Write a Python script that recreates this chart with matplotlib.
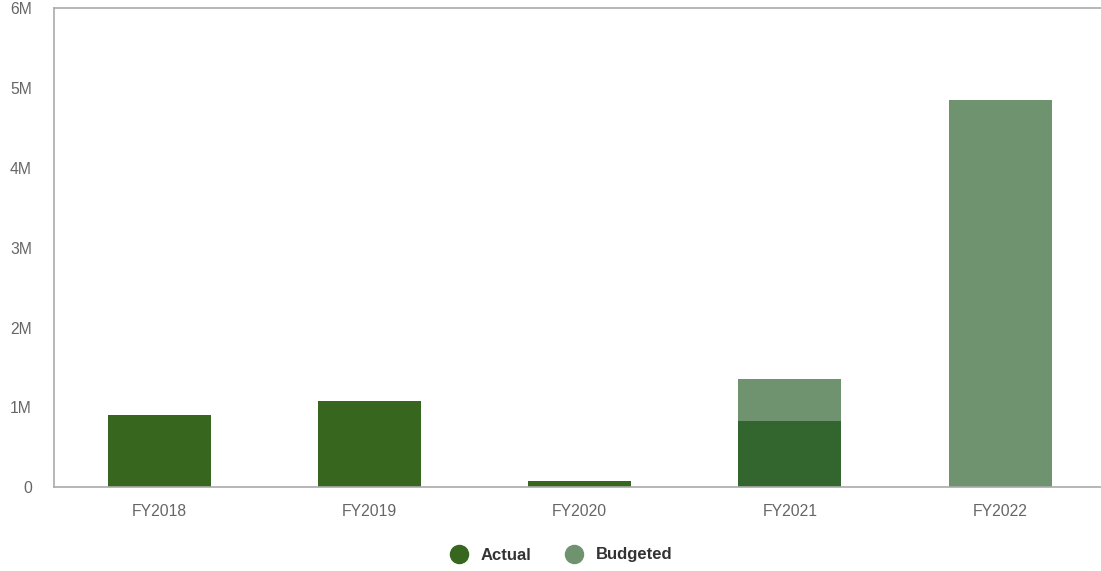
import matplotlib.pyplot as plt
from matplotlib.lines import Line2D

plt.rcParams['font.family'] = ['Liberation Sans', 'DejaVu Sans']

years = ['FY2018', 'FY2019', 'FY2020', 'FY2021', 'FY2022']
actual = [0.90, 1.08, 0.08, 0.83, 0.0]         # millions
budgeted = [0.0, 0.0, 0.0, 0.525, 4.85]       # on top of actual
actual_colors = ['#37661f', '#37661f', '#37661f', '#33652f', '#37661f']
budget_color = '#6e936e'

fig = plt.figure(figsize=(11.01, 5.71), dpi=100)
ax = fig.add_axes([54 / 1101, 1 - 487.3 / 571, (1101 - 54) / 1101, (487.3 - 8) / 571])

x = range(len(years))
ax.bar(x, actual, width=0.49, color=actual_colors)
ax.bar(x, budgeted, width=0.49, bottom=actual, color=budget_color)

ax.set_xlim(-0.5, 4.48)
ax.set_ylim(0, 6)
ax.set_yticks(range(7))
ax.set_yticklabels(['0'] + [f'{i}M' for i in range(1, 7)])
ax.set_xticks(list(x))
ax.set_xticklabels(years)
ax.tick_params(length=0, labelsize=11.3, colors='#666666')
ax.tick_params(axis='y', pad=16)
ax.tick_params(axis='x', pad=12)

for side in ['left', 'top', 'bottom']:
    ax.spines[side].set_color('#aaaaaa')
    ax.spines[side].set_linewidth(1.2)
ax.spines['right'].set_visible(False)

handles = [Line2D([], [], marker='o', ls='', markersize=13, color='#37661f'),
           Line2D([], [], marker='o', ls='', markersize=13, color=budget_color)]
fig.legend(handles, ['Actual', 'Budgeted'], loc='center', bbox_to_anchor=(0.506, 1 - 555 / 571),
           ncol=2, frameon=False, handletextpad=0.3, columnspacing=1.55,
           prop={'weight': 'bold', 'size': 12}, labelcolor='#333333')

fig.savefig('out.png', dpi=100)
